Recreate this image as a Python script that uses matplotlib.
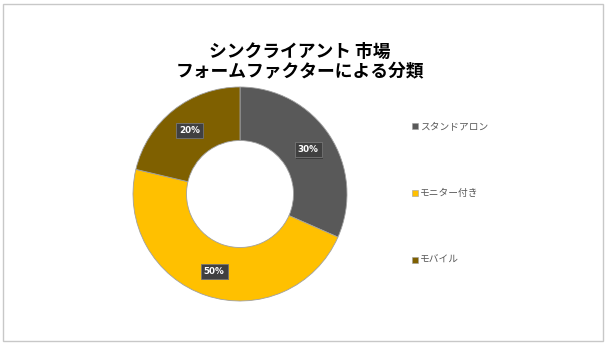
import matplotlib
matplotlib.use("Agg")
import matplotlib.pyplot as plt
from matplotlib.patches import Rectangle
import matplotlib.patheffects as pe

plt.rcParams['font.family'] = ['Noto Sans CJK JP', 'DejaVu Sans']

# -- data
categories = ['スタンドアロン', 'モニター付き', 'モバイル']
shares = [31.6, 47.1, 21.3]          # slice sizes as drawn
pct_labels = ['30%', '50%', '20%']   # data labels as printed on the chart
colors = ['#595959', '#FFC000', '#7F6000']
title = 'シンクライアント 市場\nフォームファクターによる分類'

W, H = 610, 344
fig = plt.figure(figsize=(W / 100, H / 100), dpi=100)

# outer border
fig.patches.append(Rectangle((3 / W, 3 / H), 600 / W, 337 / H, transform=fig.transFigure,
                             fill=False, edgecolor='#c8c8c8', linewidth=1.0))

cx, cy, r = 240, 150, 107
ax = fig.add_axes([(cx - r) / W, (cy - r) / H, 2 * r / W, 2 * r / H])
wedges, texts, autotexts = ax.pie(
    shares, colors=colors, startangle=90, counterclock=False,
    autopct=lambda p: '', pctdistance=0.76,
    wedgeprops=dict(width=0.5, edgecolor='#a0a0a0', linewidth=0.6),
    textprops=dict(color='white', fontsize=6.3, fontweight='bold', family='DejaVu Sans'))
for t, lab in zip(autotexts, pct_labels):
    t.set_text(lab)
    t.set_bbox(dict(boxstyle='square,pad=0.35', facecolor='#404040', edgecolor='#777777',
                    linewidth=0.6, path_effects=[pe.withSimplePatchShadow(offset=(1, -1), alpha=0.4)]))
ax.set_xlim(-1, 1)
ax.set_ylim(-1, 1)
ax.set_aspect('equal')

fig.text(300 / W, 1 - 62 / H, title, ha='center', va='center', fontsize=12.8,
         fontweight='bold', linespacing=1.2)

# legend
leg_y = [126, 193, 260]
for name, c, y in zip(categories, colors, leg_y):
    fig.patches.append(Rectangle((412 / W, 1 - (y + 3) / H), 6 / W, 6 / H,
                                 transform=fig.transFigure, facecolor=c,
                                 edgecolor='#a0a0a0', linewidth=0.4))
    fig.text(420 / W, 1 - y / H, name, ha='left', va='center', fontsize=7, color='#595959')

fig.savefig('out.png', dpi=100)
